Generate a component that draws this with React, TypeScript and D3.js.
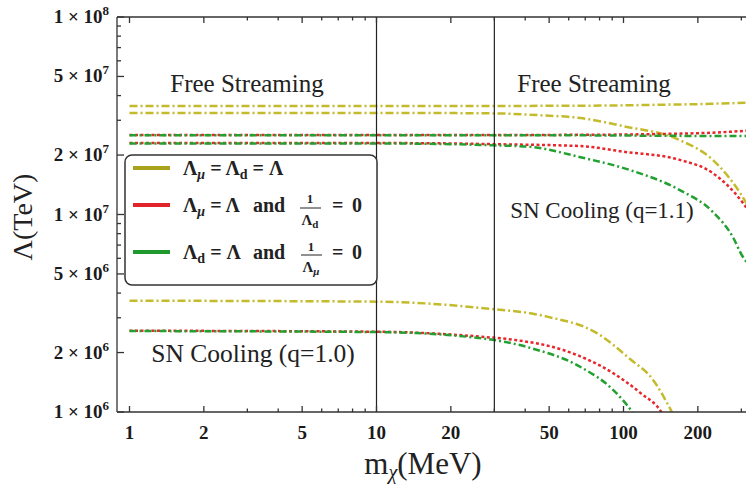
import React from 'react';
import * as d3 from 'd3';

// plot frame (px)
const W = 746;
const H = 487;
const left = 117;
const right = 746;
const top = 17;
const bottom = 412;

// q = 1.1 band (upper)
const upYellowFlatM = [1, 10, 50, 100, 150, 200, 250, 320];
const upYellowFlatL = [3.54e7, 3.54e7, 3.55e7, 3.57e7, 3.6e7, 3.62e7, 3.65e7, 3.68e7];
const upYellowBendM = [1, 10, 30, 46, 67, 100, 169, 230, 296, 320];
const upYellowBendL = [3.27e7, 3.27e7, 3.25e7, 3.18e7, 3.08e7, 2.8e7, 2.38e7, 1.89e7, 1.29e7, 1.1e7];
const upRedFlatM = [1, 10, 50, 100, 150, 200, 250, 320];
const upRedFlatL = [2.53e7, 2.53e7, 2.53e7, 2.54e7, 2.56e7, 2.58e7, 2.61e7, 2.66e7];
const upGreenFlatM = [1, 10, 50, 100, 200, 320];
const upGreenFlatL = [2.52e7, 2.52e7, 2.52e7, 2.51e7, 2.5e7, 2.5e7];
const upRedBendM = [1, 10, 20, 30, 67, 100, 169, 230, 302, 320];
const upRedBendL = [2.3e7, 2.3e7, 2.29e7, 2.27e7, 2.22e7, 2.08e7, 1.89e7, 1.62e7, 1.16e7, 1.05e7];
const upGreenBendM = [1, 10, 20, 30, 42, 67, 106, 169, 230, 277, 302, 320];
const upGreenBendL = [2.29e7, 2.29e7, 2.27e7, 2.24e7, 2.2e7, 1.95e7, 1.68e7, 1.33e7, 1.03e7, 7.7e6, 6.2e6, 5.6e6];

// q = 1.0 band (lower)
const lowYellowM = [1, 10, 26, 49, 78, 106, 132, 157, 168];
const lowYellowL = [3.66e6, 3.62e6, 3.37e6, 3.04e6, 2.51e6, 1.86e6, 1.45e6, 1.0e6, 0.85e6];
const lowRedM = [1, 10, 26, 36, 57, 91, 117, 143, 152];
const lowRedL = [2.58e6, 2.55e6, 2.41e6, 2.32e6, 2.06e6, 1.57e6, 1.25e6, 0.99e6, 0.86e6];
const lowGreenM = [1, 10, 26, 42, 67, 91, 109, 117];
const lowGreenL = [2.57e6, 2.54e6, 2.37e6, 2.11e6, 1.69e6, 1.29e6, 0.99e6, 0.86e6];

const xMajor = [1, 2, 5, 10, 20, 50, 100, 200];
const xMinor = [3, 4, 6, 7, 8, 9, 30, 40, 60, 70, 80, 90, 300];
const yMajor = [1e6, 2e6, 5e6, 1e7, 2e7, 5e7, 1e8];
const yMinor = [3e6, 4e6, 6e6, 7e6, 8e6, 9e6, 3e7, 4e7, 6e7, 7e7, 8e7, 9e7];
const vLines = [10, 30];

const YEL = '#c4bb2c';
const RED = '#e8262c';
const GRN = '#22a030';
const SERIF = '"Liberation Serif", "Times New Roman", serif';

const x = d3.scaleLog().domain([0.89, 313.3]).range([left, right]);
const y = d3.scaleLog().domain([1e6, 1e8]).range([bottom, top]);

const curves = [
  { m: upYellowFlatM, l: upYellowFlatL, c: YEL, dash: '8,3,2,3' },
  { m: upYellowBendM, l: upYellowBendL, c: YEL, dash: '8,3,2,3' },
  { m: upRedFlatM, l: upRedFlatL, c: RED, dash: '3,2.5' },
  { m: upRedBendM, l: upRedBendL, c: RED, dash: '3,2.5' },
  { m: upGreenFlatM, l: upGreenFlatL, c: GRN, dash: '7,3,2,3' },
  { m: upGreenBendM, l: upGreenBendL, c: GRN, dash: '7,3,2,3' },
  { m: lowYellowM, l: lowYellowL, c: YEL, dash: '8,3,2,3' },
  { m: lowRedM, l: lowRedL, c: RED, dash: '3,2.5' },
  { m: lowGreenM, l: lowGreenL, c: GRN, dash: '7,3,2,3' },
];

const line = d3.line<[number, number]>()
  .x(d => x(d[0]))
  .y(d => y(d[1]))
  .curve(d3.curveMonotoneX);

const App: React.FC = () => {
  return (
    <svg width={W} height={H} style={{ position: 'absolute', left: 0, top: 0, background: '#fff' }}
      fontFamily={SERIF}>
      <defs>
        <clipPath id="plot">
          <rect x={left} y={top} width={right - left} height={bottom - top} />
        </clipPath>
      </defs>

      {/* curves */}
      <g clipPath="url(#plot)" fill="none" strokeWidth={2.5}>
        {curves.map((c, i) => (
          <path key={i} d={line(c.m.map((m, j) => [m, c.l[j]]) as [number, number][]) || ''}
            stroke={c.c} strokeDasharray={c.dash} />
        ))}
      </g>

      {/* vertical boundaries */}
      {vLines.map(v => (
        <line key={v} x1={x(v)} x2={x(v)} y1={top} y2={bottom} stroke="#222" strokeWidth={1.2} />
      ))}

      {/* frame */}
      <g stroke="#333" strokeWidth={1.3}>
        <line x1={left} x2={right} y1={top} y2={top} />
        <line x1={left} x2={right} y1={bottom} y2={bottom} />
        <line x1={left} x2={left} y1={top} y2={bottom} />
        {xMajor.map(t => (
          <g key={t}>
            <line x1={x(t)} x2={x(t)} y1={bottom} y2={bottom - 6} />
            <line x1={x(t)} x2={x(t)} y1={top} y2={top + 6} />
          </g>
        ))}
        {xMinor.map(t => (
          <g key={t}>
            <line x1={x(t)} x2={x(t)} y1={bottom} y2={bottom - 3.5} />
            <line x1={x(t)} x2={x(t)} y1={top} y2={top + 3.5} />
          </g>
        ))}
        {yMajor.map(t => <line key={t} x1={left} x2={left + 7} y1={y(t)} y2={y(t)} />)}
        {yMinor.map(t => <line key={t} x1={left} x2={left + 4} y1={y(t)} y2={y(t)} />)}
      </g>

      {/* tick labels */}
      <g fontWeight="bold" fill="#1a1a1a">
        {xMajor.map(t => (
          <text key={t} x={x(t)} y={439} fontSize={19} textAnchor="middle">{t}</text>
        ))}
        {yMajor.map(t => {
          const e = Math.floor(Math.log10(t) + 1e-9);
          const mnt = Math.round(t / Math.pow(10, e));
          return (
            <text key={t} x={109} y={y(t) + 6} fontSize={19} textAnchor="end">
              {mnt} × 10<tspan fontSize={13} dy={-8}>{e}</tspan>
            </text>
          );
        })}
      </g>

      {/* axis titles */}
      <text transform="translate(32,217) rotate(-90)" textAnchor="middle" fontSize={28} fill="#222">Λ(TeV)</text>
      <text x={423} y={474} textAnchor="middle" fontSize={31} fill="#222">
        m<tspan fontSize={20} dy={5} fontStyle="italic">χ</tspan><tspan dy={-5}>(MeV)</tspan>
      </text>

      {/* region labels */}
      <g fill="#222">
        <text x={247} y={92} textAnchor="middle" fontSize={25}>Free Streaming</text>
        <text x={594} y={92} textAnchor="middle" fontSize={25}>Free Streaming</text>
        <text x={602} y={218} textAnchor="middle" fontSize={23}>SN Cooling (q=1.1)</text>
        <text x={253} y={362} textAnchor="middle" fontSize={25.5}>SN Cooling (q=1.0)</text>
      </g>

      {/* legend */}
      <g>
        <rect x={125} y={155} width={252} height={130} rx={7} fill="#fff" stroke="#333" strokeWidth={1.5} />
        <line x1={133} x2={170} y1={168} y2={168} stroke="#a9a21a" strokeWidth={4} />
        <line x1={133} x2={170} y1={205} y2={205} stroke="#e0242a" strokeWidth={4} />
        <line x1={133} x2={170} y1={252} y2={252} stroke="#1f9a2e" strokeWidth={4} />
        <g fontWeight="bold" fill="#222" fontSize={20}>
          <text x={183} y={175}>Λ<tspan fontSize={14} dy={4} fontStyle="italic">μ</tspan><tspan dy={-4}> = Λ</tspan><tspan fontSize={14} dy={4}>d</tspan><tspan dy={-4}> = Λ</tspan></text>

          <text x={183} y={212}>Λ<tspan fontSize={14} dy={4} fontStyle="italic">μ</tspan><tspan dy={-4}> = Λ</tspan></text>
          <text x={253} y={212}>and</text>
          <text x={310} y={203} fontSize={13} textAnchor="middle">1</text>
          <line x1={300} x2={321} y1={208} y2={208} stroke="#222" strokeWidth={1} />
          <text x={310} y={225} fontSize={15} textAnchor="middle">Λ<tspan fontSize={11} dy={3}>d</tspan></text>
          <text x={332} y={212}>=</text>
          <text x={352} y={212}>0</text>

          <text x={183} y={259}>Λ<tspan fontSize={14} dy={4}>d</tspan><tspan dy={-4}> = Λ</tspan></text>
          <text x={253} y={259}>and</text>
          <text x={311} y={251} fontSize={13} textAnchor="middle">1</text>
          <line x1={301} x2={322} y1={255} y2={255} stroke="#222" strokeWidth={1} />
          <text x={311} y={272} fontSize={15} textAnchor="middle">Λ<tspan fontSize={11} dy={3} fontStyle="italic">μ</tspan></text>
          <text x={332} y={259}>=</text>
          <text x={352} y={259}>0</text>
        </g>
      </g>
    </svg>
  );
};

export default App;
